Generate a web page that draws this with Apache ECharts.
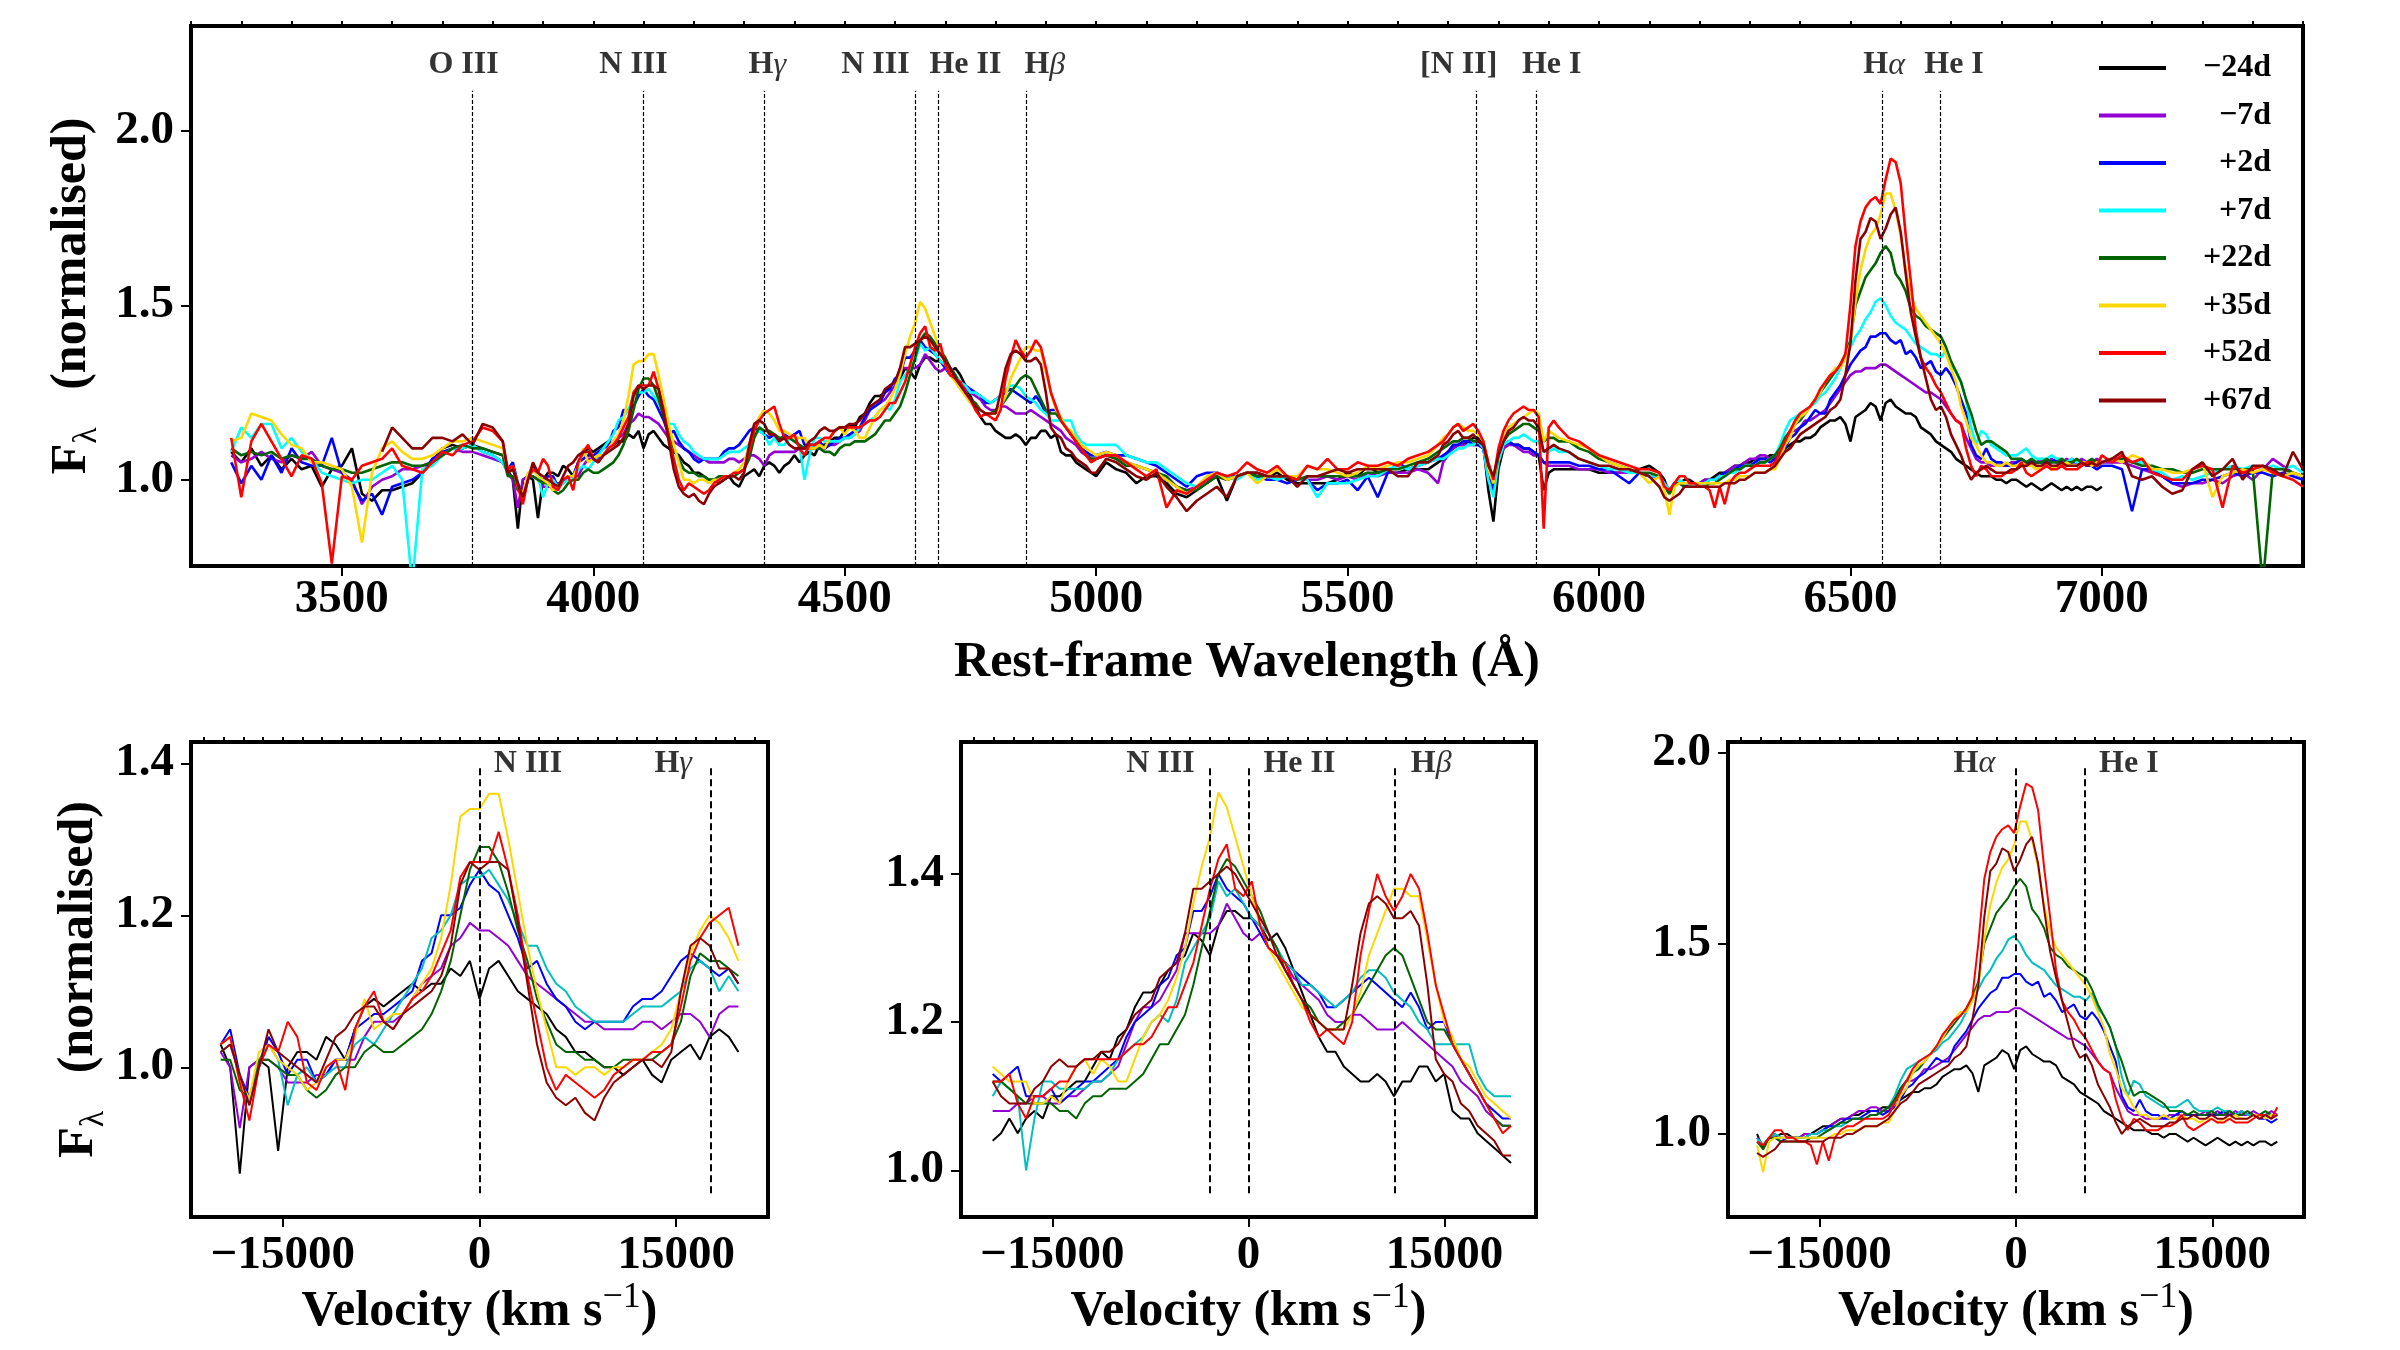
<!DOCTYPE html>
<html>
<head>
<meta charset="utf-8">
<title>Spectral sequence</title>
<script src="https://cdn.jsdelivr.net/npm/echarts@6/dist/echarts.min.js"></script>
<style>
  html, body { margin: 0; padding: 0; background: #ffffff; }
  #chart { width: 2400px; height: 1350px; }
</style>
</head>
<body>
<div id="chart"></div>
<script>
// epochs (days from peak) and colours, same order as the legend
var epochs = ['\u221224d', '\u22127d', '+2d', '+7d', '+22d', '+35d', '+52d', '+67d'];
var topColors = ['#000000', '#9400d3', '#0000ff', '#00ffff', '#006400', '#ffd700', '#ff0000', '#8b0000'];
var zoomColors = ['#000000', '#9400d3', '#0000ff', '#00bfbf', '#006400', '#ffd700', '#ff0000', '#8b0000'];

// rest-frame wavelength grid (A)
var wave = [
  3280,3300,3320,3340,3360,3380,3400,3420,3440,3460,3480,3500,3520,3540,3560,3580,3600,3620,3640,3660,3680,3700,3720,3740,3760,3780,3800,3820,
  3830,3840,3850,3860,3870,3880,3890,3900,3910,3920,3930,3940,3950,3960,3970,3980,3990,4000,4010,4020,4030,4040,4050,4060,4070,4080,4090,4100,
  4110,4120,4130,4140,4150,4160,4170,4180,4190,4200,4210,4220,4230,4240,4250,4260,4270,4280,4290,4300,4310,4320,4330,4340,4350,4360,4370,
  4380,4390,4400,4410,4420,4430,4440,4450,4460,4470,4480,4490,4500,4510,4520,4530,4540,4550,4560,4570,4580,4590,4600,4610,4620,4630,4640,
  4650,4660,4670,4680,4690,4700,4710,4720,4730,4740,4750,4760,4770,4780,4790,4800,4810,4820,4830,4840,4850,4860,4870,4880,4890,4900,4910,
  4920,4930,4940,4950,4960,4970,4980,4990,5000,
  5020,5040,5060,5080,5100,5120,5140,5160,5180,5200,5220,5240,5260,5280,5300,5320,5340,5360,5380,5400,5420,5440,5460,5480,5500,5520,5540,
  5560,5580,5600,5620,5640,5660,5680,
  5690,5700,5710,5720,5730,5740,5750,5760,5770,5780,5790,5800,5810,5820,5830,5840,5850,5860,5870,5880,5890,5900,5910,
  5920,5940,5960,5980,6000,6020,6040,6060,6080,6100,6120,
  6130,6140,6150,6160,6170,6180,6190,6200,6210,6220,6230,6240,6250,6260,6270,6280,6290,6300,6310,6320,6330,6340,6350,6360,6370,6380,6390,
  6400,6410,6420,6430,6440,6450,6460,6470,6480,6490,6500,6510,6520,6530,6540,6550,6560,6570,6580,6590,6600,6610,6620,6630,6640,6650,6660,
  6670,6680,6690,6700,6710,6720,6730,6740,6750,6760,6770,6780,6790,6800,6810,6820,6830,6840,6850,6860,6870,6880,6890,6900,6910,6920,6930,
  6940,6950,6960,6970,6980,6990,7000,
  7020,7040,7060,7080,7100,7120,7140,7160,7180,7200,7220,7240,7260,7280,7300,7320,7340,7360,7380,7400
];

// normalised flux for each epoch, one value per wave entry (null = no data)
var fluxM24 = [
  1.08,1.05,1.09,1.04,1.07,1.03,1.06,1.03,1.04,0.98,1.03,1.04,1.09,0.96,0.94,0.97,0.97,0.98,0.99,1.02,1.05,1.09,1.10,1.09,1.10,1.09,1.08,1.07,
  1.03,1.00,0.86,1.00,1.01,1.00,0.89,1.00,1.02,1.02,1.01,1.04,1.03,1.01,1.05,1.08,1.09,1.08,1.09,1.10,1.11,1.10,1.11,1.11,1.13,1.12,1.14,1.09,
  1.13,1.14,1.12,1.10,1.09,1.08,1.07,1.05,1.04,1.02,1.02,1.01,1.00,1.00,0.99,1.00,1.01,0.99,0.98,1.01,1.02,1.03,1.01,1.04,1.05,1.04,1.02,
  1.04,1.05,1.07,1.05,1.07,1.08,1.07,1.10,1.10,1.11,1.12,1.12,1.14,1.16,1.15,1.18,1.19,1.22,1.24,1.24,1.25,1.27,1.28,1.29,1.32,1.31,1.29,
  1.33,1.35,1.35,1.34,1.34,1.33,1.31,1.32,1.30,1.27,1.24,1.21,1.18,1.16,1.16,1.14,1.13,1.12,1.12,1.13,1.12,1.10,1.12,1.12,1.14,1.14,1.12,
  1.13,1.08,1.07,1.07,1.05,1.04,1.03,1.02,1.01,
  1.05,1.03,1.02,0.99,1.01,1.01,0.99,0.96,0.95,0.97,0.99,1.01,0.94,1.01,1.02,1.02,1.01,1.02,1.00,0.99,0.99,0.99,0.99,1.00,1.02,1.01,1.04,
  1.02,1.02,1.02,1.03,1.03,1.03,1.05,
  1.06,1.08,1.09,1.10,1.10,1.11,1.12,1.12,1.10,0.97,0.88,1.03,1.09,1.11,1.10,1.10,1.09,1.09,1.08,1.07,0.97,1.02,1.03,
  1.03,1.03,1.03,1.03,1.02,1.02,1.02,1.02,1.03,1.04,1.02,
  1.00,0.96,0.99,0.99,1.00,1.00,0.99,0.99,1.00,1.00,1.01,1.02,1.02,1.03,1.04,1.04,1.05,1.05,1.06,1.06,1.06,1.07,1.07,1.09,1.09,1.10,1.11,
  1.11,1.12,1.12,1.13,1.15,1.16,1.17,1.17,1.18,1.16,1.11,1.18,1.19,1.20,1.22,1.21,1.17,1.22,1.23,1.21,1.20,1.19,1.19,1.18,1.15,1.14,
  1.13,1.11,1.10,1.09,1.08,1.06,1.05,1.04,1.03,1.02,1.01,1.01,1.01,1.00,1.00,0.99,1.00,1.00,0.99,0.98,0.99,0.98,0.97,0.98,0.99,0.98,0.97,
  0.98,0.97,0.98,0.97,0.98,0.98,0.97,0.98,
  null,null,null,null,null,null,null,null,null,null,null,null,null,null,null,null,null,null,null,null
];
var fluxM7 = [
  1.07,1.05,1.06,1.08,1.06,1.05,1.07,1.06,1.08,1.04,1.03,1.02,1.00,0.93,0.98,1.00,1.01,1.03,1.03,1.04,1.05,1.07,1.09,1.08,1.08,1.07,1.06,1.05,
  1.02,1.00,0.92,1.00,1.01,1.01,1.00,0.98,0.98,0.98,0.99,0.99,1.01,1.01,1.01,1.04,1.06,1.06,1.06,1.07,1.09,1.11,1.12,1.13,1.16,1.17,1.19,1.18,
  1.18,1.17,1.16,1.14,1.12,1.11,1.10,1.09,1.08,1.07,1.06,1.06,1.05,1.05,1.05,1.05,1.06,1.06,1.05,1.06,1.07,1.07,1.06,1.04,1.07,1.08,1.08,
  1.08,1.08,1.08,1.09,1.09,1.10,1.10,1.09,1.09,1.10,1.10,1.11,1.12,1.12,1.13,1.14,1.17,1.20,1.22,1.22,1.23,1.25,1.27,1.32,1.32,1.32,1.32,
  1.33,1.36,1.34,1.32,1.31,1.32,1.30,1.29,1.28,1.26,1.25,1.24,1.23,1.21,1.20,1.20,1.21,1.21,1.20,1.19,1.19,1.19,1.20,1.19,1.18,1.17,1.16,
  1.15,1.14,1.12,1.11,1.10,1.08,1.07,1.06,1.06,
  1.07,1.06,1.05,1.04,1.03,1.02,1.00,0.98,0.97,0.98,1.00,1.01,1.00,1.01,1.02,1.01,1.01,1.00,1.01,1.00,1.00,1.00,1.01,1.00,1.01,1.00,1.02,
  1.01,1.02,1.02,1.02,1.03,1.02,0.99,
  1.05,1.07,1.09,1.10,1.10,1.10,1.10,1.10,1.09,1.00,0.98,1.06,1.09,1.10,1.10,1.09,1.08,1.08,1.07,1.07,1.05,1.04,1.04,
  1.04,1.04,1.03,1.03,1.03,1.02,1.02,1.02,1.02,1.01,1.01,
  0.99,0.97,0.99,0.99,0.99,0.99,0.99,0.99,1.00,1.00,1.00,1.01,1.02,1.03,1.04,1.04,1.05,1.06,1.06,1.07,1.07,1.06,1.06,1.09,1.12,1.14,1.14,
  1.15,1.17,1.17,1.18,1.19,1.20,1.22,1.24,1.26,1.28,1.30,1.31,1.31,1.32,1.32,1.32,1.33,1.33,1.32,1.31,1.30,1.29,1.28,1.27,1.26,1.25,
  1.25,1.24,1.23,1.21,1.19,1.17,1.16,1.12,1.09,1.06,1.05,1.05,1.04,1.04,1.04,1.04,1.05,1.05,1.05,1.05,1.05,1.05,1.06,1.05,1.06,1.05,1.05,
  1.06,1.05,1.05,1.06,1.05,1.05,1.06,1.05,
  1.05,1.05,1.04,1.03,1.02,1.01,0.99,0.98,0.99,0.99,1.00,0.99,1.01,1.02,1.00,1.03,1.06,1.04,1.02,1.01
];
var fluxP2 = [
  1.05,0.99,1.04,1.00,1.07,1.02,1.09,1.05,1.04,1.04,1.12,1.02,0.99,0.94,0.96,0.90,0.98,0.99,1.00,1.02,1.06,1.08,1.09,1.09,1.10,1.08,1.07,1.05,
  1.03,1.05,0.99,0.96,1.00,1.04,1.02,0.99,1.01,1.01,0.98,0.99,1.01,1.01,1.05,1.06,1.07,1.07,1.08,1.09,1.10,1.14,1.15,1.20,1.20,1.21,1.24,1.26,
  1.24,1.23,1.20,1.17,1.13,1.14,1.11,1.09,1.08,1.06,1.05,1.06,1.06,1.06,1.06,1.08,1.09,1.09,1.10,1.12,1.14,1.15,1.14,1.13,1.12,1.13,1.11,
  1.13,1.12,1.13,1.14,1.10,1.10,1.10,1.11,1.09,1.10,1.11,1.12,1.12,1.13,1.14,1.15,1.18,1.20,1.21,1.22,1.25,1.26,1.29,1.30,1.35,1.35,1.37,
  1.40,1.38,1.37,1.36,1.34,1.32,1.30,1.29,1.28,1.27,1.26,1.25,1.24,1.22,1.22,1.23,1.24,1.25,1.26,1.25,1.24,1.23,1.22,1.24,1.22,1.19,1.20,
  1.20,1.17,1.15,1.13,1.11,1.09,1.08,1.07,1.07,
  1.08,1.07,1.07,1.06,1.05,1.04,1.02,1.00,0.98,1.01,1.02,1.02,1.01,1.01,1.02,1.01,1.00,1.00,0.99,1.00,1.00,0.97,0.99,0.99,1.00,0.97,1.01,
  0.95,1.02,1.05,1.03,1.04,1.05,1.06,
  1.07,1.08,1.10,1.10,1.11,1.11,1.10,1.10,1.09,1.01,0.97,1.06,1.10,1.11,1.10,1.10,1.09,1.09,1.08,1.07,1.05,1.05,1.05,
  1.05,1.05,1.04,1.04,1.03,1.03,1.01,0.99,1.02,1.01,1.01,
  0.99,0.97,0.99,0.99,0.98,0.99,0.99,0.99,0.99,1.00,1.00,1.01,1.02,1.02,1.03,1.04,1.04,1.04,1.05,1.06,1.06,1.05,1.06,1.07,1.09,1.12,1.13,
  1.15,1.16,1.18,1.20,1.19,1.19,1.23,1.25,1.27,1.30,1.33,1.35,1.37,1.38,1.41,1.41,1.42,1.42,1.40,1.39,1.40,1.36,1.37,1.35,1.32,1.33,
  1.34,1.31,1.30,1.32,1.30,1.27,1.23,1.19,1.10,1.07,1.06,1.09,1.06,1.05,1.05,1.04,1.04,1.05,1.06,1.05,1.05,1.05,1.05,1.05,1.05,1.06,1.05,
  1.05,1.06,1.05,1.05,1.04,1.04,1.03,1.04,
  1.04,1.03,0.91,1.03,1.03,1.01,0.99,0.99,0.99,1.00,1.00,1.01,1.02,1.01,1.02,1.02,1.01,1.02,1.01,1.00
];
var fluxP7 = [
  1.08,1.15,1.12,1.16,1.16,1.09,1.12,1.08,1.06,1.02,1.01,1.00,0.99,1.00,1.00,1.02,1.04,1.00,0.70,1.03,1.04,1.07,1.09,1.09,1.10,1.08,1.07,1.05,
  1.02,1.03,0.99,0.95,1.01,1.03,1.01,0.95,0.99,1.00,0.98,0.99,1.00,1.00,1.03,1.04,1.03,1.05,1.07,1.09,1.11,1.13,1.17,1.18,1.20,1.24,1.25,1.25,
  1.26,1.24,1.22,1.19,1.16,1.16,1.13,1.11,1.10,1.08,1.07,1.06,1.06,1.06,1.06,1.07,1.08,1.08,1.08,1.09,1.10,1.13,1.14,1.13,1.10,1.12,1.10,
  1.10,1.12,1.11,1.10,1.00,1.07,1.12,1.12,1.11,1.11,1.11,1.11,1.12,1.12,1.13,1.15,1.16,1.17,1.18,1.20,1.21,1.20,1.23,1.28,1.30,1.32,1.34,
  1.39,1.37,1.38,1.36,1.34,1.33,1.32,1.30,1.28,1.27,1.25,1.25,1.24,1.23,1.22,1.23,1.24,1.26,1.27,1.27,1.26,1.24,1.23,1.22,1.20,1.19,1.17,
  1.17,1.17,1.17,1.17,1.13,1.11,1.10,1.10,1.10,
  1.10,1.10,1.07,1.06,1.05,1.05,1.03,1.01,0.99,0.98,1.01,1.02,1.01,1.00,1.02,1.00,1.01,1.00,1.01,1.00,1.00,0.95,0.99,0.99,0.99,1.00,1.01,
  1.01,1.03,1.04,1.03,1.04,1.05,1.06,
  1.06,1.07,1.08,1.09,1.09,1.10,1.10,1.11,1.09,1.00,0.95,1.05,1.10,1.11,1.12,1.12,1.13,1.12,1.11,1.11,1.08,1.08,1.09,
  1.08,1.08,1.06,1.05,1.04,1.03,1.03,1.02,1.02,1.01,1.01,
  0.99,0.97,0.99,1.00,0.99,0.99,0.99,0.99,0.99,1.00,1.00,1.01,1.01,1.02,1.02,1.03,1.04,1.04,1.04,1.05,1.05,1.06,1.07,1.10,1.14,1.17,1.18,
  1.19,1.20,1.21,1.22,1.24,1.25,1.27,1.29,1.32,1.35,1.38,1.41,1.43,1.46,1.48,1.51,1.52,1.50,1.47,1.45,1.44,1.43,1.41,1.39,1.38,1.37,
  1.36,1.36,1.35,1.37,1.33,1.31,1.28,1.23,1.15,1.10,1.14,1.13,1.10,1.09,1.08,1.07,1.07,1.07,1.08,1.09,1.07,1.06,1.06,1.06,1.07,1.06,1.06,
  1.05,1.06,1.05,1.05,1.05,1.05,1.05,1.05,
  1.06,1.06,1.05,1.05,1.03,1.02,1.00,1.01,1.00,1.01,1.02,1.03,1.04,1.03,1.04,1.03,1.04,1.03,1.04,1.02
];
var fluxP22 = [
  1.09,1.07,1.08,1.07,1.08,1.06,1.07,1.06,1.06,1.04,1.03,1.03,1.02,1.02,1.03,1.04,1.05,1.05,1.04,1.04,1.05,1.07,1.09,1.10,1.09,1.09,1.08,1.07,
  1.01,1.01,0.97,0.96,1.01,1.01,1.00,0.99,0.99,0.97,0.96,0.97,0.99,1.00,1.00,1.02,1.03,1.02,1.02,1.03,1.04,1.05,1.07,1.10,1.14,1.20,1.26,1.29,
  1.29,1.27,1.23,1.18,1.14,1.09,1.06,1.03,1.02,1.02,1.01,1.01,1.00,1.00,1.01,1.01,1.01,1.01,1.02,1.03,1.06,1.12,1.15,1.14,1.14,1.13,1.12,
  1.12,1.12,1.11,1.10,1.09,1.09,1.09,1.09,1.08,1.08,1.07,1.09,1.10,1.10,1.11,1.11,1.11,1.12,1.13,1.15,1.17,1.17,1.19,1.21,1.25,1.30,1.35,
  1.40,1.42,1.41,1.39,1.37,1.35,1.32,1.30,1.27,1.25,1.23,1.22,1.20,1.19,1.19,1.20,1.21,1.23,1.25,1.27,1.29,1.30,1.29,1.26,1.23,1.20,1.19,
  1.19,1.17,1.15,1.13,1.11,1.09,1.07,1.06,1.06,
  1.07,1.06,1.04,1.04,1.03,1.02,1.01,0.98,0.97,0.97,0.99,1.01,1.00,1.01,1.02,1.01,1.01,1.01,1.01,1.00,1.01,1.01,1.01,1.01,1.01,1.01,1.02,
  1.02,1.03,1.03,1.04,1.05,1.06,1.08,
  1.09,1.10,1.11,1.11,1.12,1.12,1.11,1.11,1.10,1.03,0.99,1.07,1.11,1.13,1.14,1.15,1.16,1.16,1.15,1.14,1.11,1.12,1.12,
  1.11,1.11,1.09,1.08,1.06,1.05,1.04,1.03,1.02,1.02,1.01,
  0.98,0.96,0.99,0.99,0.98,0.98,0.98,0.98,0.98,0.99,0.99,1.00,1.01,1.02,1.03,1.03,1.04,1.04,1.04,1.05,1.05,1.06,1.07,1.09,1.12,1.14,1.16,
  1.17,1.19,1.21,1.23,1.25,1.27,1.29,1.31,1.33,1.36,1.40,1.50,1.54,1.58,1.60,1.62,1.65,1.67,1.65,1.59,1.57,1.54,1.49,1.47,1.46,1.44,
  1.43,1.42,1.41,1.38,1.34,1.31,1.28,1.23,1.19,1.14,1.10,1.11,1.11,1.10,1.09,1.08,1.06,1.06,1.06,1.05,1.06,1.05,1.05,1.06,1.05,1.05,1.06,
  1.05,1.05,1.06,1.05,1.05,1.06,1.05,1.05,
  1.06,1.06,1.05,1.04,1.04,1.03,1.03,1.02,1.02,1.03,1.03,1.03,1.03,1.03,1.03,0.70,1.03,1.03,1.02,1.01
];
var fluxP35 = [
  1.11,1.12,1.19,1.18,1.17,1.13,1.10,1.09,1.05,1.05,1.04,1.03,0.98,0.82,1.02,1.09,1.11,1.08,1.06,1.06,1.07,1.09,1.11,1.11,1.12,1.11,1.10,1.09,
  1.03,1.04,0.98,0.96,1.02,1.03,1.01,1.00,0.99,0.97,0.98,1.00,1.01,1.01,1.04,1.09,1.05,1.06,1.07,1.07,1.09,1.11,1.13,1.17,1.24,1.33,1.34,1.34,
  1.36,1.36,1.30,1.23,1.16,1.10,1.05,1.00,1.00,0.99,1.00,1.00,0.99,1.00,1.00,1.01,1.01,1.02,1.03,1.05,1.10,1.15,1.18,1.20,1.19,1.17,1.14,
  1.14,1.13,1.12,1.12,1.12,1.09,1.09,1.10,1.09,1.12,1.14,1.15,1.13,1.15,1.14,1.12,1.12,1.15,1.18,1.20,1.21,1.23,1.26,1.30,1.36,1.41,1.45,
  1.51,1.49,1.45,1.41,1.37,1.33,1.30,1.28,1.26,1.24,1.22,1.21,1.20,1.19,1.19,1.19,1.21,1.24,1.29,1.32,1.35,1.38,1.38,1.37,1.37,1.31,1.25,
  1.20,1.18,1.15,1.14,1.12,1.10,1.09,1.08,1.07,
  1.08,1.07,1.05,1.04,1.03,1.02,1.00,0.98,0.96,0.98,1.01,1.02,1.00,1.01,1.02,0.99,1.01,1.03,1.01,1.01,1.04,1.03,1.03,1.02,1.01,1.02,1.04,
  1.03,1.04,1.05,1.05,1.06,1.07,1.10,
  1.12,1.13,1.15,1.16,1.15,1.14,1.14,1.13,1.11,1.03,0.99,1.08,1.12,1.15,1.16,1.17,1.18,1.19,1.20,1.19,1.11,1.14,1.13,
  1.12,1.11,1.10,1.09,1.07,1.05,1.04,1.03,1.02,0.99,1.01,
  0.97,0.90,0.98,0.99,0.99,0.99,0.99,0.99,0.99,0.99,0.99,0.99,0.99,1.00,1.00,1.01,1.01,1.01,1.02,1.02,1.02,1.03,1.03,1.06,1.10,1.12,1.16,
  1.18,1.19,1.21,1.23,1.25,1.28,1.30,1.32,1.32,1.35,1.39,1.51,1.60,1.66,1.70,1.72,1.76,1.82,1.82,1.77,1.70,1.60,1.53,1.49,1.47,1.45,
  1.43,1.41,1.39,1.36,1.32,1.28,1.21,1.17,1.12,1.10,1.07,1.05,1.05,1.04,1.04,1.05,1.04,1.04,1.05,1.04,1.04,1.03,1.04,1.04,1.03,1.04,1.04,
  1.05,1.04,1.04,1.05,1.05,1.04,1.05,1.05,
  1.06,1.05,1.07,1.06,1.03,1.03,1.02,1.02,1.03,1.05,0.95,1.01,1.02,1.03,1.02,1.03,1.02,1.01,1.02,1.01
];
var fluxP52 = [
  1.12,0.95,1.11,1.16,1.11,1.06,1.01,1.07,1.06,0.99,0.76,1.01,1.00,1.04,1.05,1.06,1.09,1.04,1.03,1.02,1.05,1.08,1.07,1.10,1.11,1.15,1.14,1.11,
  1.03,1.04,0.98,0.93,1.00,1.03,1.02,1.06,1.04,0.98,0.97,1.00,1.01,0.97,1.05,1.08,1.10,1.06,1.05,1.07,1.09,1.10,1.12,1.15,1.18,1.25,1.27,1.27,
  1.27,1.31,1.26,1.20,1.12,1.06,1.00,0.97,0.99,0.98,0.97,0.96,0.97,0.99,1.00,1.01,1.01,1.02,1.02,1.03,1.08,1.14,1.17,1.19,1.20,1.21,1.16,
  1.12,1.12,1.13,1.09,1.07,1.10,1.10,1.11,1.12,1.12,1.14,1.15,1.15,1.15,1.15,1.15,1.16,1.17,1.17,1.18,1.20,1.22,1.22,1.25,1.28,1.33,1.38,
  1.42,1.44,1.38,1.37,1.39,1.33,1.30,1.29,1.28,1.25,1.23,1.20,1.18,1.19,1.18,1.17,1.20,1.29,1.35,1.40,1.37,1.35,1.37,1.40,1.38,1.32,1.25,
  1.21,1.17,1.15,1.13,1.11,1.09,1.07,1.05,1.06,
  1.07,1.07,1.05,1.03,1.01,1.03,0.92,0.97,0.96,0.98,1.00,1.02,1.01,1.02,1.05,1.03,1.02,1.04,1.01,1.00,1.04,1.03,1.06,1.03,1.03,1.05,1.04,
  1.04,1.05,1.04,1.06,1.07,1.08,1.10,
  1.11,1.13,1.15,1.16,1.14,1.15,1.16,1.14,1.11,1.05,1.00,1.09,1.14,1.17,1.19,1.20,1.21,1.20,1.20,1.18,0.86,1.15,1.17,
  1.15,1.12,1.11,1.09,1.07,1.06,1.05,1.04,1.03,1.03,1.02,
  0.98,0.97,0.99,1.01,1.01,0.99,0.99,0.98,0.98,0.97,0.92,0.98,0.93,0.99,1.01,1.02,1.02,1.03,1.04,1.04,1.04,1.04,1.05,1.08,1.11,1.14,1.17,
  1.19,1.20,1.21,1.23,1.26,1.28,1.30,1.31,1.33,1.36,1.50,1.67,1.74,1.78,1.80,1.81,1.79,1.86,1.92,1.91,1.85,1.70,1.57,1.43,1.35,1.32,
  1.30,1.27,1.25,1.22,1.19,1.17,1.16,1.09,1.04,1.01,1.04,1.03,1.01,1.01,1.01,1.02,1.02,1.03,1.05,1.02,1.01,1.02,1.03,1.04,1.03,1.03,1.04,
  1.03,1.03,1.03,1.04,1.05,1.05,1.04,1.07,
  1.05,1.07,1.05,1.06,1.02,1.01,1.00,1.00,1.03,1.04,1.03,0.92,1.04,1.02,1.03,1.04,1.02,1.01,1.00,0.98
];
var fluxP67 = [
  null,null,null,null,null,null,null,null,null,null,null,null,null,null,null,1.08,1.15,1.12,1.09,1.09,1.12,1.12,1.11,1.13,1.10,1.16,1.15,1.11,
  1.02,1.03,0.99,0.95,1.00,1.05,1.02,1.01,1.00,0.99,0.98,1.01,1.04,1.05,1.07,1.08,1.08,1.06,1.05,1.07,1.08,1.09,1.10,1.12,1.16,1.24,1.27,1.26,
  1.27,1.27,1.26,1.19,1.11,1.03,0.98,0.96,0.95,0.96,0.94,0.93,0.96,0.98,0.99,1.00,1.01,1.01,1.00,1.02,1.10,1.16,1.17,1.16,1.13,1.13,1.11,
  1.12,1.10,1.09,1.09,1.09,1.11,1.12,1.14,1.15,1.14,1.14,1.15,1.15,1.16,1.16,1.17,1.19,1.21,1.22,1.23,1.26,1.27,1.28,1.32,1.38,1.38,1.39,
  1.40,1.41,1.40,1.38,1.36,1.34,1.32,1.29,1.27,1.25,1.23,1.21,1.20,1.19,1.19,1.19,1.25,1.32,1.36,1.37,1.36,1.34,1.34,1.35,1.33,1.25,1.15,
  1.13,1.12,1.09,1.08,1.06,1.05,1.04,1.02,1.02,
  1.06,1.05,1.03,1.01,1.00,1.02,0.98,0.95,0.91,0.94,0.96,0.98,0.95,1.01,1.02,1.02,1.01,1.01,1.01,0.98,1.01,1.01,1.02,1.03,1.02,1.03,1.03,
  1.03,1.03,1.01,1.01,1.05,1.05,1.07,
  1.10,1.11,1.13,1.14,1.12,1.12,1.13,1.11,1.10,1.04,1.01,1.07,1.11,1.14,1.15,1.17,1.18,1.17,1.17,1.15,1.08,1.09,1.10,
  1.09,1.08,1.06,1.05,1.04,1.04,1.03,1.03,1.02,1.01,0.98,
  0.95,0.94,0.95,0.96,0.98,0.98,0.98,0.98,0.98,0.98,0.98,0.98,0.99,0.99,0.99,1.00,1.00,1.01,1.02,1.02,1.02,1.03,1.04,1.06,1.08,1.09,1.11,
  1.13,1.14,1.15,1.16,1.17,1.18,1.20,1.21,1.23,1.30,1.39,1.57,1.69,1.71,1.75,1.74,1.69,1.72,1.76,1.78,1.71,1.59,1.48,1.41,1.35,1.29,
  1.23,1.20,1.21,1.18,1.13,1.10,1.07,1.03,1.00,1.02,1.03,1.04,1.03,1.02,1.02,1.02,1.03,1.03,1.04,1.04,1.05,1.04,1.04,1.05,1.04,1.04,1.05,
  1.04,1.04,1.04,1.05,1.04,1.05,1.04,1.05,
  1.06,1.08,1.01,1.00,1.01,0.98,0.96,0.97,1.03,1.05,1.01,1.03,1.06,1.00,1.04,1.04,1.03,1.01,1.08,1.03
];
var fluxes = [fluxM24, fluxM7, fluxP2, fluxP7, fluxP22, fluxP35, fluxP52, fluxP67];

// marked lines in the full spectrum (A) and where their names sit
var lineWaves = [3760, 4100, 4340, 4640, 4686, 4861, 5755, 5876, 6563, 6678];
var lineNames = ['O III', 'N III', 'H\u03b3', 'N III', 'He II', 'H\u03b2', '[N II]', 'He I', 'H\u03b1', 'He I'];
var lineNameX = [3742, 4080, 4346, 4561, 4740, 4898, 5721, 5906, 6567, 6706];

// the three velocity panels: zero-velocity line, wavelength window, marked lines (km/s)
var panelRest = [4100, 4686, 6563];
var panelWindow = [[3825, 4375], [4375, 5005], [6125, 7005]];
var panelLineVel = [[0, 17600], [-2940, 0, 11200], [0, 5250]];
var panelLineNames = [['N III', 'H\u03b3'], ['N III', 'He II', 'H\u03b2'], ['H\u03b1', 'He I']];
var panelNameVel = [[3700, 14770], [-6740, 3900, 13980], [-3180, 8620]];

// tick labels
var waveTicks = [3500, 4000, 4500, 5000, 5500, 6000, 6500, 7000];
var velTicks = [-15000, 0, 15000];
var velMinorTicks = [-21000, -19500, -18000, -16500, -15000, -13500, -12000, -10500, -9000, -7500, -6000, -4500, -3000, -1500, 0,
  1500, 3000, 4500, 6000, 7500, 9000, 10500, 12000, 13500, 15000, 16500, 18000, 19500, 21000];
var topFluxTicks = [1.0, 1.5, 2.0];
var panelFluxTicks = [[1.0, 1.2, 1.4], [1.0, 1.2, 1.4], [1.0, 1.5, 2.0]];

var C_KMS = 299792.458;
var FONT = '"Liberation Serif", "Times New Roman", serif';

// axis ranges
var topX = [3200, 7400];
var topY = [0.753, 2.30];
var velX = [-22000, 22000];
var panelY = [[0.803, 1.428], [0.937, 1.578], [0.782, 2.029]];
var panelGrids = [
  { left: 191, top: 742, width: 577, height: 475 },
  { left: 961, top: 742, width: 575, height: 475 },
  { left: 1728, top: 742, width: 576, height: 475 }
];

function frac(range, f) {
  return range[0] + f * (range[1] - range[0]);
}

function topData(flux) {
  return wave.map(function (w, i) {
    return [w, flux[i] === null ? '-' : flux[i]];
  });
}

function velocityData(flux, rest, win) {
  var out = [];
  for (var i = 0; i < wave.length; i++) {
    if (wave[i] < win[0] || wave[i] > win[1] || flux[i] === null) continue;
    out.push([C_KMS * (wave[i] - rest) / rest, flux[i]]);
  }
  return out;
}

function minusSign(v) {
  return v < 0 ? '\u2212' + Math.abs(v) : String(v);
}

function oneDecimal(v) {
  return Number(v).toFixed(1);
}

// names like "H\u03b3" get an italic greek letter
function richName(n) {
  var m = n.match(/^H([\u03b1\u03b2\u03b3])$/);
  if (m) return '{t|H}{g|' + m[1] + '}';
  return '{t|' + n + '}';
}

var nameRich = {
  t: { fontFamily: FONT, fontWeight: 'bold', fontSize: 32, color: '#000' },
  g: { fontFamily: FONT, fontStyle: 'italic', fontWeight: 'normal', fontSize: 32, color: '#000' }
};

var tickLine = { color: '#000', width: 2 };

var fluxName = '{f|F}{s|\u03bb}{n|   (normalised)}';
var fluxNameStyle = {
  color: '#000',
  rich: {
    f: { fontFamily: FONT, fontWeight: 'bold', fontSize: 50, lineHeight: 64, color: '#000' },
    s: { fontFamily: FONT, fontWeight: 'normal', fontSize: 34, lineHeight: 34, verticalAlign: 'bottom', color: '#000' },
    n: { fontFamily: FONT, fontWeight: 'bold', fontSize: 50, lineHeight: 64, color: '#000' }
  }
};

var velName = '{a|Velocity (km s}{b|\u22121}{a|)}';
var velNameStyle = {
  color: '#000',
  rich: {
    a: { fontFamily: FONT, fontWeight: 'bold', fontSize: 50, lineHeight: 64, color: '#000' },
    b: { fontFamily: FONT, fontWeight: 'normal', fontSize: 36, lineHeight: 36, verticalAlign: 'top', color: '#000' }
  }
};

function majorXAxis(gridIndex, range, ticks, fmt, margin) {
  return {
    type: 'value', gridIndex: gridIndex, min: range[0], max: range[1],
    axisLine: { show: false, onZero: false },
    splitLine: { show: false },
    axisTick: { show: true, customValues: ticks, length: 10, lineStyle: tickLine },
    axisLabel: {
      customValues: ticks, margin: margin, formatter: fmt,
      fontFamily: FONT, fontWeight: 'bold', fontSize: 47, color: '#000'
    }
  };
}

function minorXAxis(gridIndex, range, ticks) {
  var ax = {
    type: 'value', gridIndex: gridIndex, min: range[0], max: range[1],
    axisLine: { show: false, onZero: false },
    splitLine: { show: false },
    axisLabel: { show: false },
    axisTick: { show: true, length: 5, lineStyle: tickLine }
  };
  if (ticks) ax.axisTick.customValues = ticks;
  else ax.interval = 100;
  return ax;
}

function fluxAxis(gridIndex, range, ticks) {
  return {
    type: 'value', gridIndex: gridIndex, min: range[0], max: range[1],
    axisLine: { show: false, onZero: false },
    splitLine: { show: false },
    axisTick: { show: true, customValues: ticks, length: 10, lineStyle: tickLine },
    axisLabel: {
      customValues: ticks, margin: 17, formatter: oneDecimal,
      fontFamily: FONT, fontWeight: 'bold', fontSize: 47, color: '#000'
    }
  };
}

var grids = [{ left: 191, top: 26, width: 2112, height: 540 }].concat(panelGrids).map(function (g) {
  g.show = true;
  g.borderColor = '#000';
  g.borderWidth = 4;
  g.backgroundColor = 'transparent';
  return g;
});

// x axes: 0 top major, 1 top minor, then major/minor pairs for each panel
var xAxes = [];
var topMajor = majorXAxis(0, topX, waveTicks, function (v) { return String(v); }, 10);
topMajor.name = 'Rest-frame Wavelength (\u00c5)';
topMajor.nameLocation = 'middle';
topMajor.nameGap = 69;
topMajor.nameTextStyle = { fontFamily: FONT, fontWeight: 'bold', fontSize: 50, lineHeight: 56, color: '#000' };
xAxes.push(topMajor);
xAxes.push(minorXAxis(0, topX, null));

var yAxes = [];
var topFlux = fluxAxis(0, topY, topFluxTicks);
topFlux.name = fluxName;
topFlux.nameLocation = 'middle';
topFlux.nameRotate = 90;
topFlux.nameGap = 79;
topFlux.nameTextStyle = fluxNameStyle;
yAxes.push(topFlux);

for (var p = 0; p < 3; p++) {
  var vx = majorXAxis(p + 1, velX, velTicks, minusSign, 15);
  vx.name = velName;
  vx.nameLocation = 'middle';
  vx.nameGap = 61;
  vx.nameTextStyle = velNameStyle;
  xAxes.push(vx);
  xAxes.push(minorXAxis(p + 1, velX, velMinorTicks));
  var fy = fluxAxis(p + 1, panelY[p], panelFluxTicks[p]);
  if (p === 0) {
    fy.name = fluxName;
    fy.nameLocation = 'middle';
    fy.nameRotate = 90;
    fy.nameGap = 79;
    fy.nameTextStyle = fluxNameStyle;
  }
  yAxes.push(fy);
}

var series = [];

// full spectra
fluxes.forEach(function (flux, k) {
  series.push({
    name: epochs[k], type: 'line', xAxisIndex: 0, yAxisIndex: 0,
    data: topData(flux), symbol: 'none', showSymbol: false, silent: true,
    lineStyle: { color: topColors[k], width: 2.6 }, itemStyle: { color: topColors[k] },
    animation: false, z: 2
  });
});

// line marks and names on the full spectrum
series.push({
  type: 'scatter', xAxisIndex: 0, yAxisIndex: 0, silent: true, animation: false, z: 5,
  symbolSize: 2, itemStyle: { color: 'rgba(0,0,0,0)' },
  data: lineNames.map(function (n, i) { return [lineNameX[i], 2.188, n]; }),
  label: {
    show: true, position: 'inside', color: '#000', rich: nameRich,
    formatter: function (prm) { return richName(prm.data[2]); }
  },
  markLine: {
    silent: true, animation: false, symbol: ['none', 'none'], label: { show: false },
    lineStyle: { color: '#000', type: [4, 2], width: 1.2 },
    data: lineWaves.map(function (w) {
      return [{ coord: [w, topY[0]] }, { coord: [w, frac(topY, 0.88)] }];
    })
  }
});

// velocity panels
for (var q = 0; q < 3; q++) {
  fluxes.forEach(function (flux, k) {
    series.push({
      name: epochs[k], type: 'line', xAxisIndex: 2 + 2 * q, yAxisIndex: 1 + q,
      data: velocityData(flux, panelRest[q], panelWindow[q]), symbol: 'none', showSymbol: false, silent: true,
      lineStyle: { color: zoomColors[k], width: 2 }, itemStyle: { color: zoomColors[k] },
      animation: false, z: 2
    });
  });
  series.push({
    type: 'scatter', xAxisIndex: 2 + 2 * q, yAxisIndex: 1 + q, silent: true, animation: false, z: 5,
    symbolSize: 2, itemStyle: { color: 'rgba(0,0,0,0)' },
    data: panelLineNames[q].map(function (n, i) { return [panelNameVel[q][i], frac(panelY[q], 0.955), n]; }),
    label: {
      show: true, position: 'inside', color: '#000', rich: nameRich,
      formatter: function (prm) { return richName(prm.data[2]); }
    },
    markLine: {
      silent: true, animation: false, symbol: ['none', 'none'], label: { show: false },
      lineStyle: { color: '#000', type: [7, 4], width: 2 },
      data: panelLineVel[q].map(function (v) {
        return [{ coord: [v, frac(panelY[q], 0.05)] }, { coord: [v, frac(panelY[q], 0.95)] }];
      })
    }
  });
}

var chart = echarts.init(document.getElementById('chart'), null, {
  renderer: 'canvas', width: 2400, height: 1350
});

var option = {
  backgroundColor: '#ffffff',
  animation: false,
  grid: grids,
  xAxis: xAxes,
  yAxis: yAxes,
  legend: {
    data: epochs, orient: 'vertical', left: 2099, top: 52, padding: 0,
    icon: 'rect', itemWidth: 67, itemHeight: 4, itemGap: 15.5, selectedMode: false,
    formatter: function (name) { return '{r|' + name + '}'; },
    textStyle: {
      color: '#000',
      rich: { r: { width: 100, align: 'right', fontFamily: FONT, fontWeight: 'bold', fontSize: 32, lineHeight: 32, color: '#000' } }
    }
  },
  series: series
};
chart.setOption(option);
</script>
</body>
</html>
